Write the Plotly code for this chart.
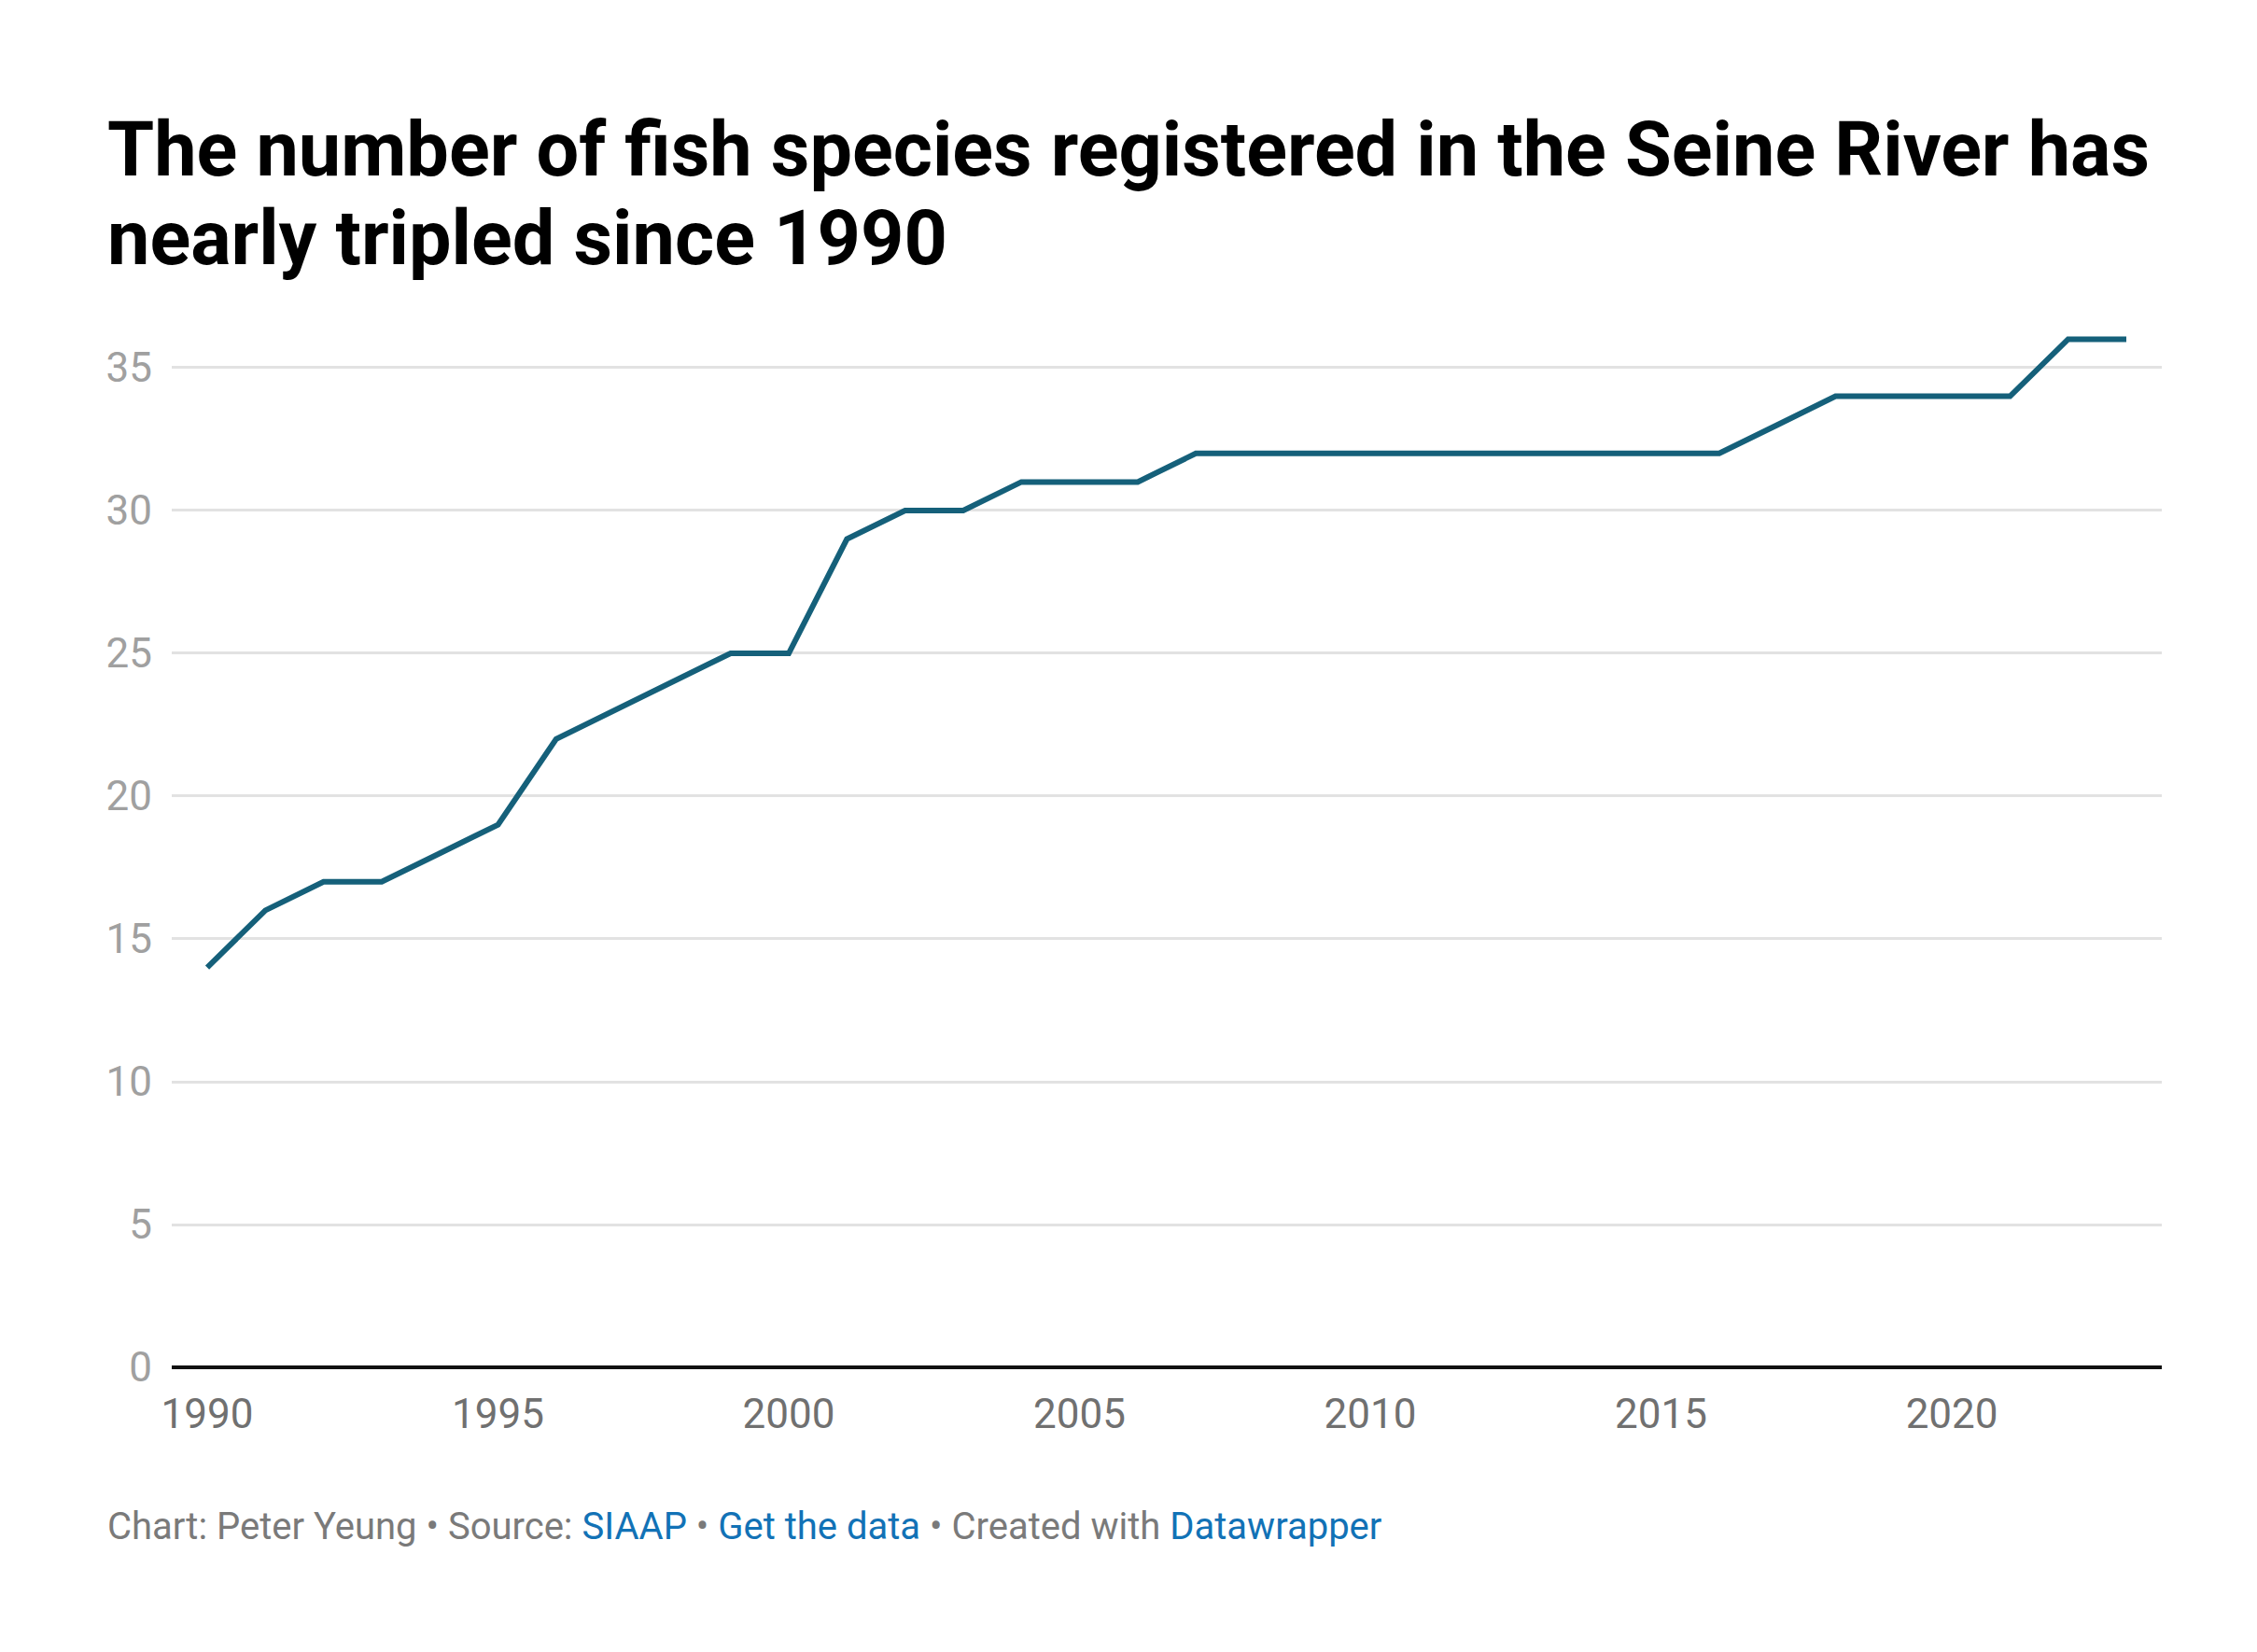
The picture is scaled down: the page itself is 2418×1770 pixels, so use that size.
import plotly.graph_objects as go

years = list(range(1990, 2024))
species = [14, 16, 17, 17, 18, 19, 22, 23, 24, 25, 25, 29, 30, 30, 31, 31, 31,
           32, 32, 32, 32, 32, 32, 32, 32, 32, 32, 33, 34, 34, 34, 34, 36, 36]
y_ticks = [0, 5, 10, 15, 20, 25, 30, 35]
x_ticks = [1990, 1995, 2000, 2005, 2010, 2015, 2020]

title_lines = ["The number of fish species registered in the Seine River has",
               "nearly tripled since 1990"]
link = "#1272b6"
footer_text = ("Chart: Peter Yeung • Source: <span style='color:%s'>SIAAP</span> • "
               "<span style='color:%s'>Get the data</span> • Created with "
               "<span style='color:%s'>Datawrapper</span>") % (link, link, link)

fig = go.Figure()
fig.add_trace(go.Scatter(x=years, y=species, mode="lines",
                         line=dict(color="#15607a", width=6),
                         hoverinfo="skip", showlegend=False))

fig.update_layout(
    width=2418, height=1770,
    paper_bgcolor="white", plot_bgcolor="white",
    margin=dict(l=176, r=110, t=300, b=313),
    font=dict(family="Roboto", color="#333"),
    xaxis=dict(range=[1989.39, 2023.61], tickvals=x_ticks,
               showgrid=False, zeroline=False, showline=False,
               ticks="", tickfont=dict(size=44, color="#707070"),
               ticklabelstandoff=20),
    yaxis=dict(range=[0, 37.81], tickvals=y_ticks,
               showgrid=True, gridcolor="#e2e2e2", gridwidth=3,
               zeroline=True, zerolinecolor="#111", zerolinewidth=4,
               showline=False, ticks="",
               tickfont=dict(size=44, color="#a0a0a0"),
               ticklabelstandoff=20),
)

for line_text, shift in zip(title_lines, [98, 3]):
    fig.add_annotation(text="<b>" + line_text + "</b>", xref="paper", yref="paper",
                       x=0, xanchor="left", y=1, yanchor="bottom",
                       xshift=-71, yshift=shift,
                       showarrow=False, align="left",
                       font=dict(family="Roboto", size=81, color="#000"))

fig.add_annotation(text=footer_text, xref="paper", yref="paper",
                   x=0, xanchor="left", y=0, yanchor="middle",
                   xshift=-71, yshift=-170,
                   showarrow=False, align="left",
                   font=dict(family="Roboto", size=40, color="#7a7a7a"))

fig.write_html("out.html")
